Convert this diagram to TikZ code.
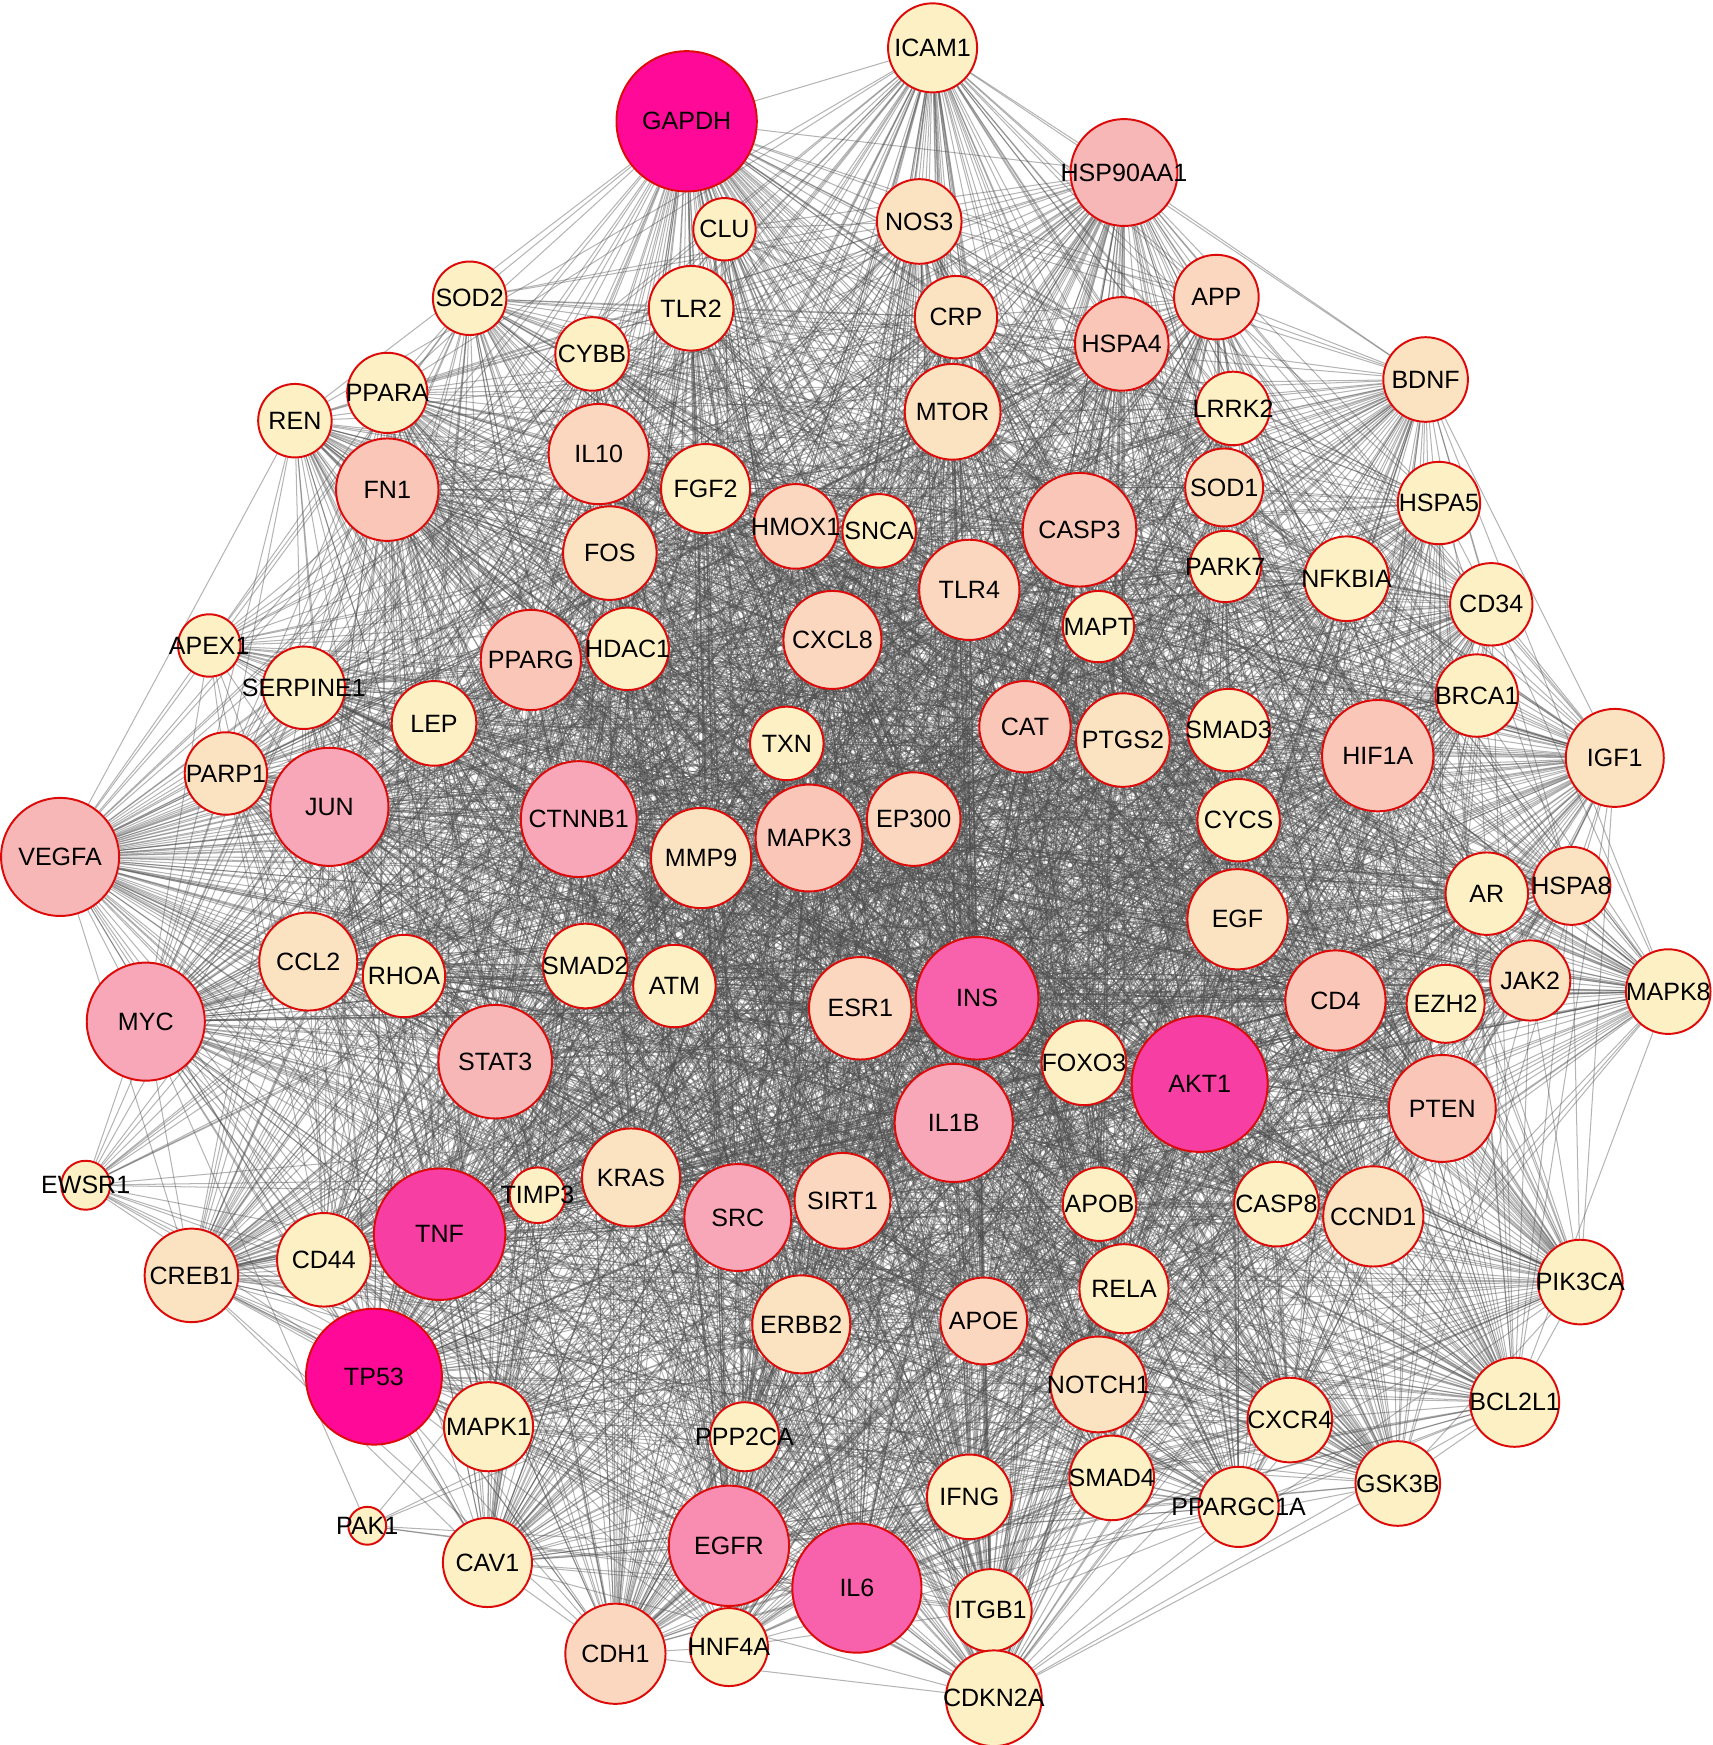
\documentclass[tikz,border=0pt]{standalone}
\usepackage{fontspec}
\setmainfont{Liberation Sans}
\usepackage{tikz}
\usetikzlibrary{backgrounds}

\definecolor{cYel}{HTML}{FCF0C4}
\definecolor{cPea}{HTML}{FBE3C1}
\definecolor{cApr}{HTML}{FAD7BE}
\definecolor{cSal}{HTML}{F9C6B7}
\definecolor{cRos}{HTML}{F8B7B7}
\definecolor{cPnk}{HTML}{F7A7B7}
\definecolor{cEgf}{HTML}{F88CB1}
\definecolor{cHot}{HTML}{F862AD}
\definecolor{cDeep}{HTML}{F73EA3}
\definecolor{cMag}{HTML}{FF0A98}
\definecolor{rim}{HTML}{DD0A0A}

\tikzset{
    gene/.style={circle, draw=rim, line width=0.5pt, inner sep=0pt,
        font=\fontsize{6.4}{7}\selectfont},
    edge/.style={black!70, line width=0.26pt, opacity=0.42}
}

\begin{document}
\begin{tikzpicture}[x=0.01cm, y=-0.01cm]
    % Frame of the picture
    \useasboundingbox (0,0) rectangle (1539,1568);

    % Genes: name / x / y / radius / fill
    \def\genes{GAPDH/617/109/63/cMag, ICAM1/838/43/40/cYel, HSP90AA1/1010/155/48/cRos,
        CLU/651/206/28/cYel, NOS3/826/199/38/cPea, SOD2/422/268/33/cYel,
        TLR2/621/277/38/cYel, APP/1093/267/38/cApr, CRP/859/285/37/cPea,
        HSPA4/1008/309/42/cSal, CYBB/532/318/33/cYel, PPARA/348/353/36/cYel,
        BDNF/1281/341/38/cPea, REN/265/378/33/cYel, MTOR/856/370/43/cPea,
        LRRK2/1108/367/33/cYel, IL10/538/408/45/cApr, FN1/348/440/46/cSal,
        FGF2/634/439/40/cYel, SOD1/1100/438/35/cPea, HSPA5/1293/452/37/cYel,
        HMOX1/715/473/38/cApr, SNCA/790/477/33/cYel, CASP3/970/476/51/cSal,
        FOS/548/497/42/cPea, PARK7/1101/509/32/cYel, NFKBIA/1210/520/38/cYel,
        TLR4/871/530/45/cApr, CD34/1340/543/37/cYel, APEX1/188/580/28/cYel,
        HDAC1/564/583/37/cYel, CXCL8/748/575/44/cApr, MAPT/987/563/32/cYel,
        PPARG/477/593/45/cSal, SERPINE1/273/618/37/cYel, BRCA1/1327/625/37/cYel,
        LEP/390/650/38/cYel, TXN/707/668/33/cYel, CAT/921/653/41/cSal,
        PTGS2/1009/665/42/cPea, SMAD3/1104/656/37/cYel, HIF1A/1238/679/50/cSal,
        IGF1/1451/681/44/cPea, PARP1/203/695/37/cPea, JUN/296/725/53/cPnk,
        CTNNB1/520/736/52/cPnk, MAPK3/727/753/48/cSal, EP300/821/736/42/cApr,
        MMP9/630/771/45/cPea, CYCS/1113/737/37/cYel, VEGFA/54/770/53/cRos,
        AR/1336/803/37/cYel, HSPA8/1412/796/35/cPea, EGF/1112/826/45/cPea,
        CCL2/277/864/44/cPea, RHOA/363/877/37/cYel, SMAD2/526/868/38/cYel,
        ATM/606/886/37/cYel, ESR1/773/906/46/cApr, INS/878/897/55/cHot,
        MYC/131/918/53/cPnk, CD4/1200/899/45/cSal, EZH2/1299/902/35/cYel,
        JAK2/1375/881/36/cPea, MAPK8/1499/891/38/cYel, STAT3/445/954/51/cRos,
        FOXO3/974/955/38/cYel, AKT1/1078/974/61/cDeep, IL1B/857/1009/53/cPnk,
        PTEN/1296/996/48/cSal, EWSR1/77/1065/22/cYel, TIMP3/483/1074/25/cYel,
        KRAS/567/1058/44/cPea, SRC/663/1094/48/cPnk, SIRT1/757/1079/43/cApr,
        APOB/988/1082/33/cYel, CASP8/1147/1082/38/cYel, CCND1/1234/1093/45/cPea,
        TNF/395/1109/59/cDeep, CREB1/172/1146/42/cPea, CD44/291/1132/42/cYel,
        PIK3CA/1420/1152/38/cYel, RELA/1010/1158/40/cYel, ERBB2/720/1190/44/cPea,
        APOE/884/1187/39/cApr, TP53/336/1237/61/cMag, NOTCH1/987/1244/43/cPea,
        MAPK1/439/1282/40/cYel, PPP2CA/669/1291/31/cYel, CXCR4/1159/1276/38/cYel,
        BCL2L1/1361/1260/40/cYel, IFNG/871/1345/38/cYel, SMAD4/999/1328/38/cYel,
        GSK3B/1256/1333/38/cYel, PPARGC1A/1113/1354/36/cYel, PAK1/330/1371/17/cYel,
        CAV1/438/1404/40/cYel, EGFR/655/1389/54/cEgf, IL6/770/1427/58/cHot,
        ITGB1/890/1447/37/cYel, CDH1/553/1486/45/cApr, HNF4A/655/1480/35/cYel,
        CDKN2A/893/1526/43/cYel}

    % Draw the genes
    \foreach \n/\x/\y/\r/\c in \genes {
        \node[gene, fill=\c, minimum size=\r*0.02cm] (\n) at (\x,\y) {\makebox[0pt]{\n}};
    }

    % Draw the interactions behind them
    \pgfmathsetseed{4217}
    \begin{scope}[on background layer]
        \foreach \n/\x/\y/\r/\c [count=\i] in \genes {
            \foreach \m/\u/\v/\s/\d [count=\j] in \genes {
                \ifnum\j>\i
                    \pgfmathsetmacro\pij{min(1, 2.2*(\r-14)*(\s-14)/2025)}
                    \pgfmathtruncatemacro\hit{rnd<\pij}
                    \ifnum\hit=1
                        \draw[edge] (\n) -- (\m);
                    \fi
                \fi
            }
        }
    \end{scope}
\end{tikzpicture}
\end{document}
